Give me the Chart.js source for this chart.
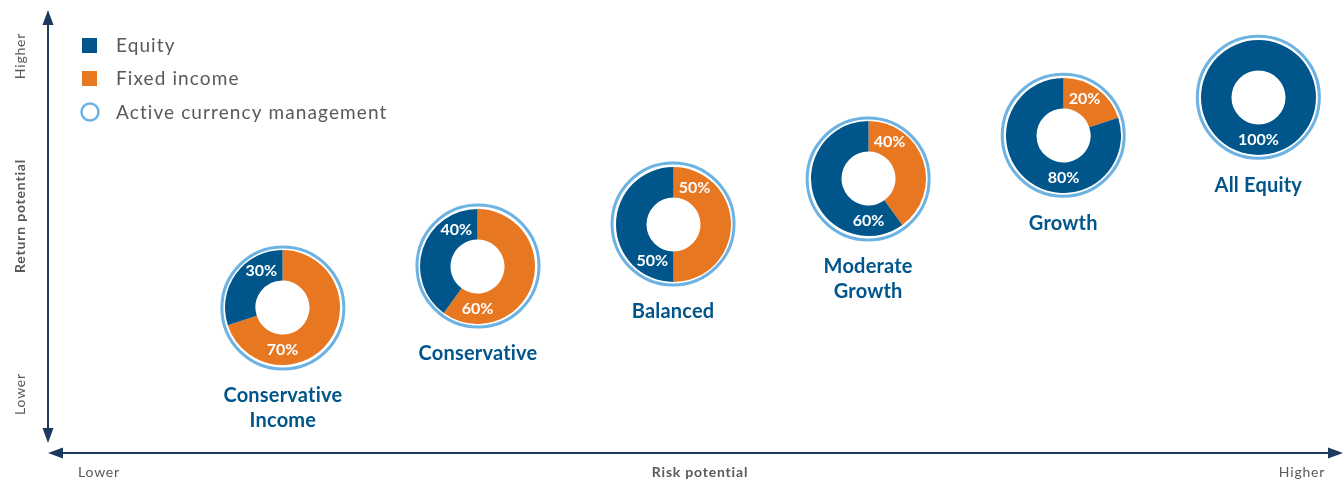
<!DOCTYPE html>
<html>
<head>
<meta charset="utf-8">
<script src="https://cdn.jsdelivr.net/npm/chart.js@4.4.1/dist/chart.umd.min.js"></script>
<style>
  body { margin: 0; background: #fff; }
  #wrap { position: relative; width: 1343px; height: 479px; }
  #main { position: absolute; left: 0; top: 0; }
  .donut { position: absolute; }
</style>
</head>
<body>
<div id="wrap"><canvas id="main" width="1343" height="479"></canvas></div>
<script>
// dados
const portfolios = [['Conservative', 'Income'], ['Conservative'], ['Balanced'], ['Moderate', 'Growth'], ['Growth'], ['All Equity']];
const equity = [30, 40, 50, 60, 80, 100];
const fixedIncome = [70, 60, 50, 40, 20, 0];
const riskPosition = [1, 2, 3, 4, 5, 6];
const returnPosition = [3.26, 4.21, 5.16, 6.18, 7.17, 8.03];
const legendLabels = ['Equity', 'Fixed income', 'Active currency management'];

const corEquity = '#00558a';
const corFixed = '#e87722';
const corAnel = '#6cb2e2';
const corEixo = '#1c3a5e';
const corTexto = '#595959';
const fonte = 'Lato, "Open Sans", sans-serif';

function seta(ctx, x1, y1, x2, y2) {
    // triangulo com ponta em (x1,y1) e base centrada em (x2,y2)
    const ang = Math.atan2(y2 - y1, x2 - x1);
    const w = 5.5;
    ctx.beginPath();
    ctx.moveTo(x1, y1);
    ctx.lineTo(x2 + Math.cos(ang + Math.PI / 2) * w, y2 + Math.sin(ang + Math.PI / 2) * w);
    ctx.lineTo(x2 - Math.cos(ang + Math.PI / 2) * w, y2 - Math.sin(ang + Math.PI / 2) * w);
    ctx.closePath();
    ctx.fill();
}

function textoVertical(ctx, txt, x, y) {
    ctx.save();
    ctx.translate(x, y);
    ctx.rotate(-Math.PI / 2);
    ctx.fillText(txt, 0, 0);
    ctx.restore();
}

const decoracao = {
    id: 'decoracao',
    afterDatasetsDraw(chart) {
        const ctx = chart.ctx;
        ctx.save();
        // eixos
        ctx.strokeStyle = corEixo;
        ctx.fillStyle = corEixo;
        ctx.lineWidth = 2;
        ctx.beginPath();
        ctx.moveTo(48, 22);
        ctx.lineTo(48, 430);
        ctx.moveTo(60, 453);
        ctx.lineTo(1332, 453);
        ctx.stroke();
        seta(ctx, 48, 10, 48, 25);
        seta(ctx, 48, 443, 48, 428);
        seta(ctx, 48, 453, 63, 453);
        seta(ctx, 1343, 453, 1328, 453);

        // textos dos eixos
        ctx.fillStyle = corTexto;
        ctx.textAlign = 'center';
        ctx.textBaseline = 'middle';
        ctx.letterSpacing = '0.8px';
        ctx.font = '14px ' + fonte;
        textoVertical(ctx, 'Higher', 20, 56);
        textoVertical(ctx, 'Lower', 20, 394);
        ctx.fillText('Lower', 99, 472);
        ctx.fillText('Higher', 1302, 472);
        ctx.font = 'bold 14px ' + fonte;
        textoVertical(ctx, 'Return potential', 20, 216);
        ctx.fillText('Risk potential', 700, 472);

        // legenda
        ctx.fillStyle = corEquity;
        ctx.fillRect(82, 38, 15, 15);
        ctx.fillStyle = corFixed;
        ctx.fillRect(82, 71, 15, 15);
        ctx.strokeStyle = corAnel;
        ctx.lineWidth = 2.5;
        ctx.beginPath();
        ctx.arc(90, 112, 8.5, 0, Math.PI * 2);
        ctx.stroke();
        ctx.fillStyle = corTexto;
        ctx.textAlign = 'left';
        ctx.letterSpacing = '1.1px';
        ctx.font = '19px ' + fonte;
        ctx.fillText(legendLabels[0], 116, 46);
        ctx.fillText(legendLabels[1], 116, 79);
        ctx.fillText(legendLabels[2], 116, 113);

        // nomes das carteiras
        ctx.fillStyle = corEquity;
        ctx.textAlign = 'center';
        ctx.letterSpacing = '0.2px';
        ctx.font = 'bold 20px ' + fonte;
        const sx = chart.scales.x, sy = chart.scales.y;
        portfolios.forEach((linhas, i) => {
            const px = sx.getPixelForValue(riskPosition[i]);
            const py = sy.getPixelForValue(returnPosition[i]);
            linhas.forEach((l, k) => ctx.fillText(l, px, py + 88 + k * 25));
        });
        ctx.restore();
    }
};

const mainChart = new Chart(document.getElementById('main'), {
    type: 'scatter',
    data: {
        datasets: [{
            label: legendLabels[2],
            data: riskPosition.map((x, i) => ({ x: x, y: returnPosition[i] })),
            pointRadius: 61,
            pointBorderWidth: 3,
            pointBorderColor: corAnel,
            pointBackgroundColor: 'rgba(0,0,0,0)',
            clip: false
        }]
    },
    options: {
        responsive: false,
        animation: false,
        events: [],
        layout: { padding: 0, autoPadding: false },
        scales: {
            x: { display: false, min: -0.45, max: 6.434 },
            y: { display: false, min: -0.61, max: 10.23 }
        },
        plugins: { legend: { display: false }, tooltip: { enabled: false } }
    },
    plugins: [decoracao]
});

const rotulosFatias = {
    id: 'rotulosFatias',
    afterDatasetsDraw(chart) {
        const ctx = chart.ctx;
        const valores = chart.data.datasets[0].data;
        const maior = valores[1] >= valores[0] ? 1 : 0;
        const margem = Math.PI / 6;
        ctx.save();
        ctx.fillStyle = '#fff';
        ctx.font = 'bold 16px ' + fonte;
        ctx.textAlign = 'center';
        ctx.textBaseline = 'middle';
        chart.getDatasetMeta(0).data.forEach((arc, i) => {
            if (!valores[i]) return;
            const p = arc.getProps(['x', 'y', 'startAngle', 'endAngle', 'innerRadius', 'outerRadius'], true);
            let alvo = i === maior ? Math.PI / 2 : (i === 0 ? -Math.PI / 2 : 3 * Math.PI / 2);
            let lo = p.startAngle + margem, hi = p.endAngle - margem;
            let a = lo > hi ? (p.startAngle + p.endAngle) / 2 : Math.min(Math.max(alvo, lo), hi);
            const r = (p.innerRadius + p.outerRadius) / 2;
            ctx.fillText(valores[i] + '%', p.x + r * Math.cos(a), p.y + r * Math.sin(a));
        });
        ctx.restore();
    }
};

const wrap = document.getElementById('wrap');
const tam = 115;
riskPosition.forEach((rx, i) => {
    const px = mainChart.scales.x.getPixelForValue(rx);
    const py = mainChart.scales.y.getPixelForValue(returnPosition[i]);
    const c = document.createElement('canvas');
    c.className = 'donut';
    c.width = tam;
    c.height = tam;
    c.style.left = (px - tam / 2) + 'px';
    c.style.top = (py - tam / 2) + 'px';
    wrap.appendChild(c);
    new Chart(c, {
        type: 'doughnut',
        data: {
            labels: [legendLabels[1], legendLabels[0]],
            datasets: [{
                data: [fixedIncome[i], equity[i]],
                backgroundColor: [corFixed, corEquity],
                borderWidth: 0
            }]
        },
        options: {
            responsive: false,
            animation: false,
            events: [],
            cutout: '47%',
            plugins: { legend: { display: false }, tooltip: { enabled: false } }
        },
        plugins: [rotulosFatias]
    });
});
</script>
</body>
</html>
